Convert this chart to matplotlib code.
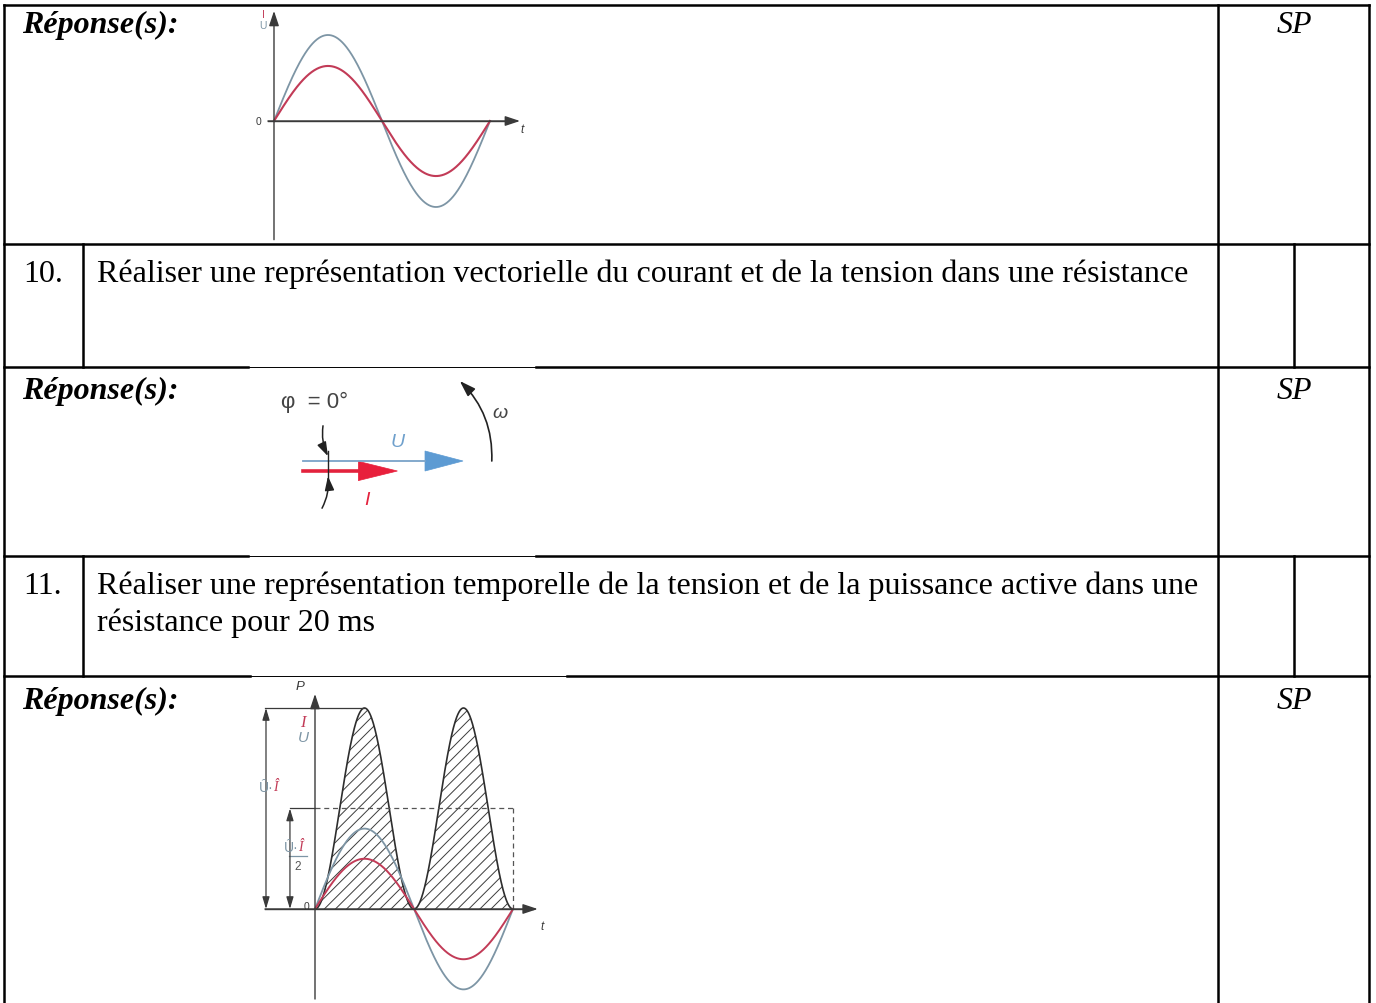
import numpy as np
import matplotlib.pyplot as plt
from matplotlib.patches import Polygon

W, H = 1376, 1004

# table content
answer_label = "Réponse(s):"
score_label = "SP"
question_numbers = ["10.", "11."]
question_lines = [
    ["Réaliser une représentation vectorielle du courant et de la tension dans une résistance"],
    ["Réaliser une représentation temporelle de la tension et de la puissance active dans une",
     "résistance pour 20 ms"],
]

# signals (t in ms, amplitudes relative to each figure)
period_ms = 20
u_peak_a, i_peak_a = 1.0, 0.64
p_peak, u_peak_b, i_peak_b = 1.0, 0.40, 0.25
p_mean = p_peak / 2

# phasors, phi = 0 so both point the same way
u_len, i_len = 1.0, 0.59
phi_deg = 0

U_COL = "#7d95a5"
I_COL = "#c23b57"
AX_COL = "#3a3a3a"
SERIF = "Liberation Serif"
SANS = "Liberation Sans"
FS = 23


def inset(x0, y0, x1, y1):
    a = fig.add_axes([x0 / W, 1 - y1 / H, (x1 - x0) / W, (y1 - y0) / H])
    a.axis("off")
    a.patch.set_alpha(0)
    return a


def arrow(a, start, tip, color=AX_COL, lw=1.0, ms=15, style="-|>,head_length=0.6,head_width=0.2", cs="arc3"):
    a.annotate("", xy=tip, xytext=start,
               arrowprops=dict(arrowstyle=style, color=color, lw=lw, mutation_scale=ms,
                               shrinkA=0, shrinkB=0, connectionstyle=cs))


plt.rcParams["hatch.linewidth"] = 0.7
fig = plt.figure(figsize=(W / 100, H / 100), dpi=100)
ax = fig.add_axes([0, 0, 1, 1])
ax.set_xlim(0, W)
ax.set_ylim(H, 0)
ax.axis("off")

# ---- table grid
LW = 1.8
left, right = 4, 1369
col_num, col_sp, col_sp2 = 83, 1218, 1294
rows = [6, 245, 368, 557, 677]
q_rows = [(245, 368), (557, 677)]

ax.plot([left, right], [rows[0]] * 2, color="k", lw=LW)
ax.plot([left, right], [rows[1]] * 2, color="k", lw=LW)
# image boxes sit on top of some borders and leave them thin
for y, (a0, a1) in [(368, (248, 536)), (557, (248, 536)), (677, (250, 567))]:
    ax.plot([left, a0], [y, y], color="k", lw=LW)
    ax.plot([a1, right], [y, y], color="k", lw=LW)
    ax.plot([a0, a1], [y, y], color="k", lw=0.7)
for x in (left, right, col_sp):
    ax.plot([x, x], [rows[0], H], color="k", lw=LW)
for y0, y1 in q_rows:
    ax.plot([col_num, col_num], [y0, y1], color="k", lw=LW)
    ax.plot([col_sp2, col_sp2], [y0, y1], color="k", lw=LW)

# ---- table text
for yb in (33, 399, 709):
    ax.text(22, yb, answer_label, fontsize=FS, family=SERIF, weight="bold", style="italic",
            va="baseline", ha="left")
    ax.text(col_sp2, yb, score_label, fontsize=FS, family=SERIF, style="italic",
            va="baseline", ha="center")
for (y0, _), num, lines in zip(q_rows, question_numbers, question_lines):
    yb = y0 + 37
    ax.text(23, yb, num, fontsize=FS, family=SERIF, va="baseline", ha="left")
    for k, line in enumerate(lines):
        ax.text(97, yb + k * 37, line, fontsize=FS, family=SERIF, va="baseline", ha="left")

# ---- figure 1: I and U in phase
a1 = inset(240, 8, 535, 244)
a1.set_xlim(-3.148, 24.17)
a1.set_ylim(-1.4186, 1.3256)
t = np.linspace(0, period_ms, 500)
w = 2 * np.pi * t / period_ms
a1.plot(t, u_peak_a * np.sin(w), color=U_COL, lw=1.3)
a1.plot(t, i_peak_a * np.sin(w), color=I_COL, lw=1.5)
a1.plot([-0.56, 22.0], [0, 0], color=AX_COL, lw=1.0)
arrow(a1, (0, -1.38), (0, 1.28))
arrow(a1, (-0.56, 0), (22.78, 0))
a1.text(-1.0, 1.25, "I", color=I_COL, fontsize=7.5, family=SANS, ha="center", va="center")
a1.text(-1.0, 1.12, "U", color=U_COL, fontsize=7.5, family=SANS, ha="center", va="center")
a1.text(-1.4, 0, "0", color=AX_COL, fontsize=7.5, family=SANS, ha="center", va="center")
a1.text(22.95, -0.09, "t", color=AX_COL, fontsize=8.5, family=SANS, style="italic",
        ha="center", va="center")

# ---- figure 2: phasors
a2 = inset(248, 370, 536, 556)
a2.set_xlim(-0.34375, 1.45625)
a2.set_ylim(-0.5875, 0.575)
ph = np.deg2rad(phi_deg)
u_hl, u_hw = 0.2375, 0.0625
i_hl, i_hw = 0.244, 0.06
i_off = -0.0625
a2.plot([0, u_len - u_hl], [0, 0], color="#7aa3c8", lw=1.3)
a2.add_patch(Polygon([[u_len - u_hl, u_hw], [u_len, 0], [u_len - u_hl, -u_hw]],
                     closed=True, facecolor="#5d9bd3", edgecolor="#5d9bd3", lw=0.5))
ix = i_len * np.cos(ph)
a2.plot([0, ix - i_hl], [i_off, i_off], color="#e3223d", lw=2.6)
a2.add_patch(Polygon([[ix - i_hl, i_off + i_hw], [ix, i_off], [ix - i_hl, i_off - i_hw]],
                     closed=True, facecolor="#e8203c", edgecolor="#e8203c", lw=0.5))
a2.plot([0.156, 0.156], [0.06, -0.125], color="#222222", lw=1.0)
arrow(a2, (0.125, 0.22), (0.156, 0.03), color="#222222", lw=1.1, ms=14, cs="arc3,rad=0.15")
arrow(a2, (0.119, -0.295), (0.156, -0.095), color="#222222", lw=1.1, ms=14, cs="arc3,rad=0.15")
arrow(a2, (1.18, 0.0), (0.98, 0.5), color="#222222", lw=1.2, ms=16, cs="arc3,rad=0.22")
a2.text(-0.135, 0.375, "φ  = 0°", color="#444444", fontsize=16, family=SANS,
        ha="left", va="center")
a2.text(0.594, 0.119, "U", color="#6fa0cc", fontsize=14, family=SANS, style="italic",
        ha="center", va="center")
a2.text(0.40, -0.24, "I", color="#e3223d", fontsize=14, family=SANS, style="italic",
        ha="center", va="center")
a2.text(1.23, 0.306, "ω", color="#444444", fontsize=14, family=SANS, style="italic",
        ha="center", va="center")

# ---- figure 3: power in a resistor
a3 = inset(250, 680, 570, 1004)
a3.set_xlim(-6.566, 25.76)
a3.set_ylim(-0.4677, 1.1443)
p = p_peak * np.sin(w) ** 2
a3.fill_between(t, 0, p, facecolor="none", edgecolor="#3c3c3c", hatch="///", lw=0)
a3.plot(t, p, color="#2e2e2e", lw=1.2)
a3.plot(t, u_peak_b * np.sin(w), color=U_COL, lw=1.3)
a3.plot(t, i_peak_b * np.sin(w), color=I_COL, lw=1.4)
# mean power P = U.I/2
a3.plot([-2.53, 0], [p_mean, p_mean], color=AX_COL, lw=0.9)
a3.plot([0, period_ms], [p_mean, p_mean], color="#555555", lw=0.9, ls=(0, (4, 3)))
a3.plot([period_ms, period_ms], [p_mean, 0], color="#555555", lw=0.9, ls=(0, (4, 3)))
a3.plot([-5.05, period_ms / 4], [p_peak, p_peak], color=AX_COL, lw=0.9)
a3.plot([-5.05, 22.0], [0, 0], color=AX_COL, lw=1.0)
arrow(a3, (-5.05, 0), (22.5, 0))
arrow(a3, (0, -0.448), (0, 1.07))
dim = "<|-|>,head_length=0.6,head_width=0.18"
arrow(a3, (-4.95, 0), (-4.95, p_peak), ms=12, style=dim, lw=0.9)
arrow(a3, (-2.53, 0), (-2.53, p_mean), ms=12, style=dim, lw=0.9)
a3.text(-1.5, 1.11, "P", color=AX_COL, fontsize=9.5, family=SANS, style="italic",
        ha="center", va="center")
a3.text(-1.2, 0.93, "I", color=I_COL, fontsize=12, family=SERIF, style="italic",
        ha="center", va="center")
a3.text(-1.2, 0.855, "U", color=U_COL, fontsize=11, family=SANS, style="italic",
        ha="center", va="center")
a3.text(-4.2, 0.607, "Û·", color=U_COL, fontsize=10, family=SANS, ha="right", va="center")
a3.text(-4.2, 0.607, "Î", color=I_COL, fontsize=10, family=SERIF, style="italic",
        ha="left", va="center")
a3.text(-1.7, 0.31, "Û·", color=U_COL, fontsize=10, family=SANS, ha="right", va="center")
a3.text(-1.7, 0.31, "Î", color=I_COL, fontsize=10, family=SERIF, style="italic",
        ha="left", va="center")
a3.plot([-2.6, -0.85], [0.263, 0.263], color=U_COL, lw=0.9)
a3.text(-1.72, 0.215, "2", color="#555555", fontsize=8.5, family=SANS, ha="center", va="center")
a3.text(-0.9, 0.015, "0", color=AX_COL, fontsize=7.5, family=SANS, ha="center", va="center")
a3.text(22.9, -0.085, "t", color=AX_COL, fontsize=8.5, family=SANS, style="italic",
        ha="center", va="center")

fig.savefig("out.png", dpi=100)
